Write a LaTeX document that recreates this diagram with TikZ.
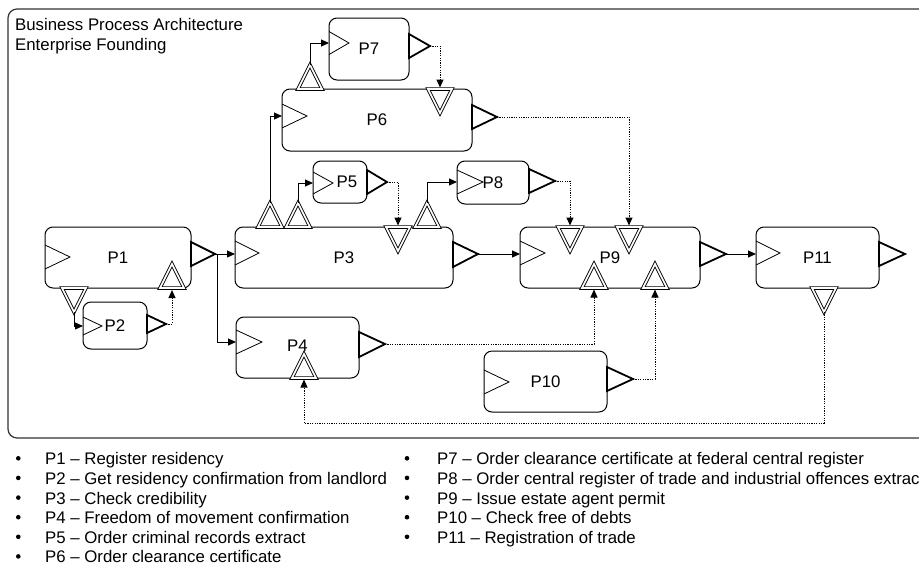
\documentclass[tikz,border=0pt]{standalone}
\usepackage{fontspec}
\setmainfont{Liberation Sans}
\usetikzlibrary{arrows.meta}

\tikzset{
  proc/.style={draw, line width=1pt, rounded corners=8pt, fill=white, inner sep=0pt},
  intri/.style={draw, line width=0.8pt},
  outtri/.style={draw, line width=1.8pt, fill=white},
  port/.style={draw, line width=0.9pt, double, double distance=1.7pt},
  flow/.style={line width=1pt, -{Triangle[length=8pt,width=7pt]}},
  msg/.style={line width=1pt, dash pattern=on 1.2pt off 1.2pt, -{Triangle[length=8pt,width=7pt]}},
}

\begin{document}
\begin{tikzpicture}[x=1pt, y=-1pt, every node/.style={inner sep=0pt, font=\fontsize{16.8}{20}\selectfont}]
\useasboundingbox (0,0) rectangle (919,563);
\draw[black!80, line width=1.2pt, rounded corners=9pt] (8,9) rectangle (930,438);
\node[anchor=base west] (title) at (15,30.7) {Business Process Architecture};
\node[anchor=base west] (subtitle) at (15,50.5) {Enterprise Founding};

% processes
\node[proc, minimum width=146pt, minimum height=61pt] (p1) at (118,257.5) {P1};
\node[proc, minimum width=64pt, minimum height=47pt] (p2) at (115,325.5) {P2};
\node[proc, minimum width=218pt, minimum height=61pt] (p3) at (344,257.5) {P3};
\node[proc, minimum width=123pt, minimum height=61pt] (p4) at (297.5,347.5) {};
\node[proc, minimum width=54pt, minimum height=42pt] (p5) at (340,182) {};
\node (p5txt) at (347,182) {P5};
\node[proc, minimum width=190pt, minimum height=62pt] (p6) at (377,120) {P6};
\node[proc, minimum width=80pt, minimum height=62pt] (p7) at (369,49) {P7};
\node[proc, minimum width=72pt, minimum height=43pt] (p8) at (493,182.5) {P8};
\node[proc, minimum width=180pt, minimum height=61pt] (p9) at (610,257.5) {P9};
\node[proc, minimum width=123pt, minimum height=61pt] (p10) at (545.5,381.5) {P10};
\node[proc, minimum width=123pt, minimum height=61pt] (p11) at (817.5,257.5) {P11};

% start triangles
\coordinate (p1in) at (45,257);  \draw[intri] (p1in) ++(0,-12) -- ++(25,12) -- ++(-25,12);
\coordinate (p2in) at (83,326);  \draw[intri] (p2in) ++(0,-9) -- ++(19,9) -- ++(-19,9);
\coordinate (p3in) at (235,253); \draw[intri] (p3in) ++(0,-12) -- ++(24,12) -- ++(-24,12);
\coordinate (p4in) at (236,342); \draw[intri] (p4in) ++(0,-12) -- ++(26,12) -- ++(-26,12);
\coordinate (p5in) at (313,183); \draw[intri] (p5in) ++(0,-11) -- ++(20,11) -- ++(-20,11);
\coordinate (p6in) at (282,116); \draw[intri] (p6in) ++(0,-12) -- ++(25,12) -- ++(-25,12);
\coordinate (p7in) at (329,43);  \draw[intri] (p7in) ++(0,-11.5) -- ++(20,11.5) -- ++(-20,11.5);
\coordinate (p8in) at (457,182); \draw[intri] (p8in) ++(0,-12) -- ++(26,12) -- ++(-26,12);
\coordinate (p9in) at (520,253); \draw[intri] (p9in) ++(0,-12) -- ++(25,12) -- ++(-25,12);
\coordinate (p10in) at (484,382); \draw[intri] (p10in) ++(0,-12) -- ++(25,12) -- ++(-25,12);
\coordinate (p11in) at (756,253); \draw[intri] (p11in) ++(0,-12) -- ++(24,12) -- ++(-24,12);
\node (p4txt) at (297.5,346) {P4};

% end triangles
\draw[outtri] (191,242) -- (215,254) coordinate (p1out) -- (191,266) -- cycle;
\draw[outtri] (147,315) -- (166,324) coordinate (p2out) -- (147,333) -- cycle;
\draw[outtri] (453,242) -- (478,254) coordinate (p3out) -- (453,267) -- cycle;
\draw[outtri] (359,332) -- (385,344) coordinate (p4out) -- (359,357) -- cycle;
\draw[outtri] (367,170) -- (387,182) coordinate (p5out) -- (367,194) -- cycle;
\draw[outtri] (472,105) -- (497,117) coordinate (p6out) -- (472,129) -- cycle;
\draw[outtri] (409,34) -- (430,46) coordinate (p7out) -- (409,58) -- cycle;
\draw[outtri] (529,169) -- (555,181) coordinate (p8out) -- (529,193) -- cycle;
\draw[outtri] (700,242) -- (726,254) coordinate (p9out) -- (700,266) -- cycle;
\draw[outtri] (607,367) -- (633,379) coordinate (p10out) -- (607,391) -- cycle;
\draw[outtri] (879,242) -- (905,254) coordinate (p11out) -- (879,266) -- cycle;

% interfaces
\draw[port] (160,288) -- (172,264) -- (184,288) -- cycle; \coordinate (p1back) at (172,290);
\draw[port] (62,288) -- (74,312) coordinate (p1dn) -- (86,288) -- cycle;
\draw[port] (258,227) -- (270,203) coordinate (p3a) -- (282,227) -- cycle;
\draw[port] (286,227) -- (298,203) coordinate (p3b) -- (310,227) -- cycle;
\draw[port] (386,227) -- (398,251) -- (410,227) -- cycle; \coordinate (p3back) at (398,225.5);
\draw[port] (415,227) -- (427,203) coordinate (p3c) -- (439,227) -- cycle;
\draw[port] (292,378) -- (304,354) -- (316,378) -- cycle; \coordinate (p4back) at (304,379.5);
\draw[port] (298,89) -- (310,65) coordinate (p6a) -- (322,89) -- cycle;
\draw[port] (428,89) -- (440,113) -- (452,89) -- cycle; \coordinate (p6back) at (440,87.5);
\draw[port] (558,227) -- (570,251) -- (582,227) -- cycle; \coordinate (p9a) at (570,225.5);
\draw[port] (617,227) -- (629,251) -- (641,227) -- cycle; \coordinate (p9b) at (629,225.5);
\draw[port] (582,288) -- (594,264) -- (606,288) -- cycle; \coordinate (p9c) at (594,289.5);
\draw[port] (643,288) -- (655,264) -- (667,288) -- cycle; \coordinate (p9d) at (655,289.5);
\draw[port] (812,288) -- (824,312) coordinate (p11dn) -- (836,288) -- cycle;

% sequence flow
\draw[flow] (p1out) -- (p1out -| p3in);
\draw[flow] (p1out) -- ++(2,0) |- (p4in);
\draw[flow] (p1dn) |- (p2in);
\draw[flow] (p3a) |- (p6in);
\draw[flow] (p3b) |- (p5in);
\draw[flow] (p3c) |- (p8in);
\draw[flow] (p6a) |- (p7in);
\draw[flow] (p3out) -- (p3out -| p9in);
\draw[flow] (p9out) -- (p9out -| p11in);

% results
\draw[msg] (p2out) -| (p1back);
\draw[msg] (p5out) -| (p3back);
\draw[msg] (p7out) -| (p6back);
\draw[msg] (p8out) -| (p9a);
\draw[msg] (p6out) -| (p9b);
\draw[msg] (p4out) -| (p9c);
\draw[msg] (p10out) -| (p9d);
\draw[msg] (p11dn) -- ++(0,111) -| (p4back);

% legend
\fill (18.3,458.3) circle (2.3); \node[anchor=base west] (l1) at (45,464.7) {P1 – Register residency};
\fill (18.3,477.9) circle (2.3); \node[anchor=base west] (l2) at (45,484.3) {P2 – Get residency confirmation from landlord};
\fill (18.3,497.6) circle (2.3); \node[anchor=base west] (l3) at (45,504.0) {P3 – Check credibility};
\fill (18.3,517.2) circle (2.3); \node[anchor=base west] (l4) at (45,523.6) {P4 – Freedom of movement confirmation};
\fill (18.3,536.8) circle (2.3); \node[anchor=base west] (l5) at (45,543.2) {P5 – Order criminal records extract};
\fill (18.3,556.4) circle (2.3); \node[anchor=base west] (l6) at (45,562.8) {P6 – Order clearance certificate};
\fill (407,458.3) circle (2.3); \node[anchor=base west] (l7) at (437,464.7) {P7 – Order clearance certificate at federal central register};
\fill (407,477.9) circle (2.3); \node[anchor=base west] (l8) at (437,484.3) {P8 – Order central register of trade and industrial offences extract};
\fill (407,497.6) circle (2.3); \node[anchor=base west] (l9) at (437,504.0) {P9 – Issue estate agent permit};
\fill (407,517.2) circle (2.3); \node[anchor=base west] (l10) at (437,523.6) {P10 – Check free of debts};
\fill (407,536.8) circle (2.3); \node[anchor=base west] (l11) at (437,543.2) {P11 – Registration of trade};
\end{tikzpicture}
\end{document}
